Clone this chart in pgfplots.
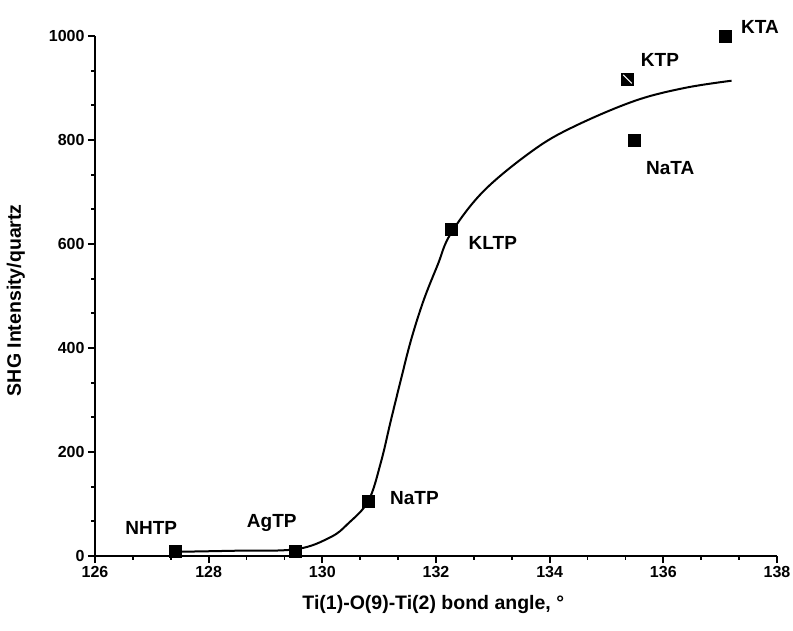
\documentclass[border=0pt]{standalone}
\usepackage{fontspec}
\setmainfont{Liberation Sans}
\usepackage{pgfplots}
\pgfplotsset{compat=1.18}
\begin{document}
\begin{tikzpicture}
\begin{axis}[
  name=ax,
  scale only axis,
  width=682pt, height=520pt,
  xmin=126, xmax=138, ymin=0, ymax=1000,
  axis x line=bottom, axis y line=left,
  axis line style={-, line width=2pt},
  xtick={126,128,...,138}, ytick={0,200,...,1000},
  minor tick num=2,
  tick align=outside,
  major tick length=7pt, minor tick length=3.5pt,
  every tick/.style={black, line width=1.8pt},
  /pgf/number format/assume math mode=true,
  /pgf/number format/1000 sep={},
  tick label style={font=\bfseries\fontsize{16}{16}\selectfont},
  xlabel={\bfseries Ti(1)-O(9)-Ti(2) bond angle, °},
  ylabel={\bfseries SHG Intensity/quartz},
  label style={font=\bfseries\fontsize{19.5}{19.5}\selectfont},
  xlabel style={at={(axis description cs:0.496,-0.094)}, anchor=center},
  ylabel style={at={(axis description cs:-0.116,0.492)}, anchor=center},
  clip=false,
]
\addplot[black, line width=2pt, smooth, tension=0.6] coordinates {
(127.40,8) (128.4,10) (129.53,13) (130.14,36) (130.45,62)
(130.81,106) (131.03,180) (131.20,258) (131.38,338) (131.56,415) (131.78,491)
(132.03,560) (132.26,620) (132.84,702) (133.72,781) (134.43,826)
(135.49,875) (136.37,900) (137.20,914)
};
\addplot[only marks, mark=square*, mark size=6pt, black] coordinates {
(127.41,10) (129.53,10) (130.81,105) (132.26,628) (135.49,800) (137.08,1000) (135.37,917)
};
\addplot[only marks, mark=|, mark size=6pt, mark options={rotate=45, white, line width=1.2pt}] coordinates {(135.37,917)};
\node[font=\bfseries\fontsize{19}{19}\selectfont] at (axis cs:126.99,54) {NHTP};
\node[font=\bfseries\fontsize{19}{19}\selectfont] at (axis cs:129.11,63) {AgTP};
\node[font=\bfseries\fontsize{19}{19}\selectfont] at (axis cs:131.62,112) {NaTP};
\node[font=\bfseries\fontsize{19}{19}\selectfont] at (axis cs:133.00,602) {KLTP};
\node[font=\bfseries\fontsize{19}{19}\selectfont] at (axis cs:135.94,954) {KTP};
\node[font=\bfseries\fontsize{19}{19}\selectfont] at (axis cs:136.12,746) {NaTA};
\node[font=\bfseries\fontsize{19}{19}\selectfont] at (axis cs:137.70,1017) {KTA};
\end{axis}
\pgfresetboundingbox
\path ([shift={(-95pt,-74pt)}]ax.south west) rectangle ([shift={(16pt,36pt)}]ax.north east);
\end{tikzpicture}
\end{document}
